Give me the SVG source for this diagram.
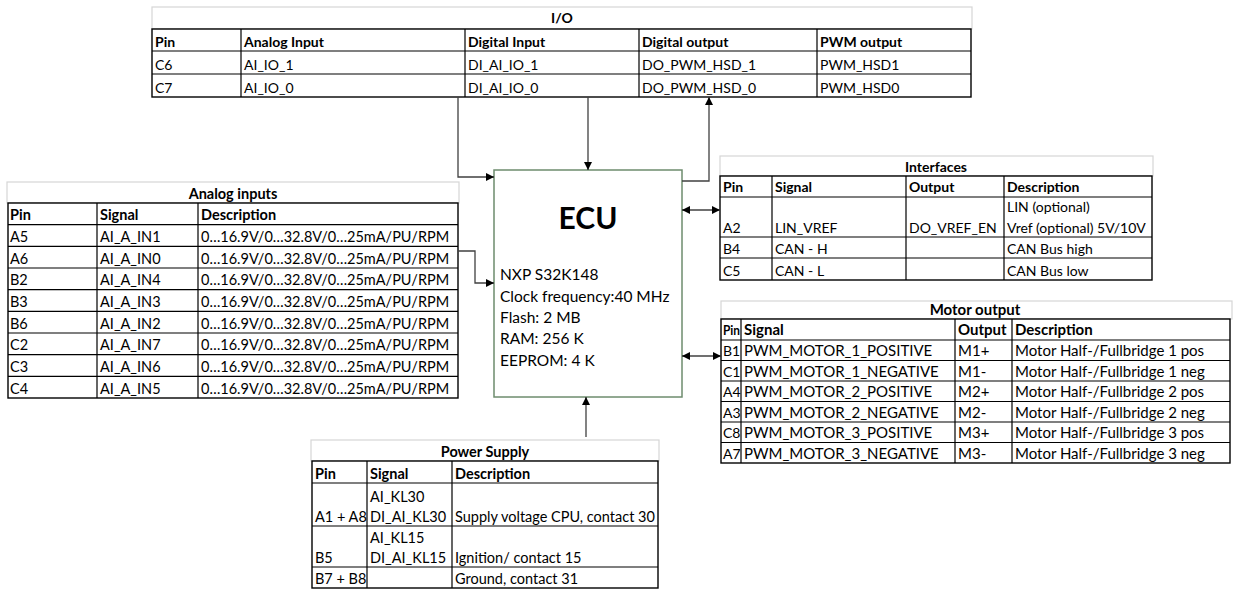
<svg xmlns="http://www.w3.org/2000/svg" width="1235" height="592" viewBox="0 0 1235 592">
<style>
.t{font-family:Lato,"Liberation Sans",sans-serif;font-size:14px;fill:#000}
.m{font-size:14.5px}
.mo{font-size:15px}
.e{font-size:15.5px}
.b{font-weight:bold}
.c{text-anchor:middle}
.ttl{fill:#fff;stroke:#d6d6d6;stroke-width:1.2}
.tb{fill:#fff;stroke:#000;stroke-width:1.4}
.g{stroke:#000;stroke-width:1.2;fill:none}
.con{stroke:#404040;stroke-width:1.3;fill:none}
</style>
<defs>
<marker id="ah" viewBox="0 0 10 10" refX="10" refY="5" markerWidth="8" markerHeight="8" markerUnits="userSpaceOnUse" orient="auto-start-reverse"><path d="M0,0 L10,5 L0,10 z" fill="#000"/></marker>
</defs>
<rect width="1235" height="592" fill="#fff"/>

<g id="io">
<rect class="ttl" x="152" y="7" width="820" height="22"/>
<rect class="tb" x="152" y="29" width="819" height="68"/>
<path class="g" d="M152,51H971M152,74H971M241,29V97M465,29V97M639,29V97M817,29V97"/>
<text class="t b c" x="562" y="23">I/O</text>
<text class="t b" x="155" y="47">Pin</text>
<text class="t b" x="244" y="47">Analog Input</text>
<text class="t b" x="468" y="47">Digital Input</text>
<text class="t b" x="642" y="47">Digital output</text>
<text class="t b" x="820" y="47">PWM output</text>
<text class="t" x="155" y="70">C6</text>
<text class="t" x="244" y="70">AI_IO_1</text>
<text class="t" x="468" y="70">DI_AI_IO_1</text>
<text class="t" x="642" y="70">DO_PWM_HSD_1</text>
<text class="t" x="820" y="70">PWM_HSD1</text>
<text class="t" x="155" y="93">C7</text>
<text class="t" x="244" y="93">AI_IO_0</text>
<text class="t" x="468" y="93">DI_AI_IO_0</text>
<text class="t" x="642" y="93">DO_PWM_HSD_0</text>
<text class="t" x="820" y="93">PWM_HSD0</text>
</g>

<g id="analog">
<rect class="ttl" x="7" y="182" width="452" height="21"/>
<rect class="tb" x="8" y="203" width="450" height="195"/>
<path class="g" d="M8,224.7H458M8,246.3H458M8,268H458M8,289.7H458M8,311.3H458M8,333H458M8,354.7H458M8,376.3H458M97,203V398M198,203V398"/>
<text class="t m b c" x="233" y="199">Analog inputs</text>
<text class="t m b" x="10" y="220">Pin</text>
<text class="t m b" x="100" y="220">Signal</text>
<text class="t m b" x="201" y="220">Description</text>
<text class="t m" x="10" y="242">A5</text><text class="t m" x="100" y="242">AI_A_IN1</text><text class="t m" x="201" y="242">0…16.9V/0…32.8V/0…25mA/PU/RPM</text>
<text class="t m" x="10" y="263.5">A6</text><text class="t m" x="100" y="263.5">AI_A_IN0</text><text class="t m" x="201" y="263.5">0…16.9V/0…32.8V/0…25mA/PU/RPM</text>
<text class="t m" x="10" y="285">B2</text><text class="t m" x="100" y="285">AI_A_IN4</text><text class="t m" x="201" y="285">0…16.9V/0…32.8V/0…25mA/PU/RPM</text>
<text class="t m" x="10" y="307">B3</text><text class="t m" x="100" y="307">AI_A_IN3</text><text class="t m" x="201" y="307">0…16.9V/0…32.8V/0…25mA/PU/RPM</text>
<text class="t m" x="10" y="328.5">B6</text><text class="t m" x="100" y="328.5">AI_A_IN2</text><text class="t m" x="201" y="328.5">0…16.9V/0…32.8V/0…25mA/PU/RPM</text>
<text class="t m" x="10" y="350">C2</text><text class="t m" x="100" y="350">AI_A_IN7</text><text class="t m" x="201" y="350">0…16.9V/0…32.8V/0…25mA/PU/RPM</text>
<text class="t m" x="10" y="372">C3</text><text class="t m" x="100" y="372">AI_A_IN6</text><text class="t m" x="201" y="372">0…16.9V/0…32.8V/0…25mA/PU/RPM</text>
<text class="t m" x="10" y="393.5">C4</text><text class="t m" x="100" y="393.5">AI_A_IN5</text><text class="t m" x="201" y="393.5">0…16.9V/0…32.8V/0…25mA/PU/RPM</text>
</g>

<g id="ecu">
<rect x="494" y="170" width="188" height="227" fill="#fff" stroke="#6e8c6e" stroke-width="1.5"/>
<text class="t b c" x="588" y="229" style="font-size:30px">ECU</text>
<text class="t e" x="500" y="280">NXP S32K148</text>
<text class="t e" x="500" y="301.5">Clock frequency:40 MHz</text>
<text class="t e" x="500" y="323">Flash: 2 MB</text>
<text class="t e" x="500" y="344">RAM: 256 K</text>
<text class="t e" x="500" y="365.5">EEPROM: 4 K</text>
</g>

<g id="interfaces">
<rect class="ttl" x="720" y="156" width="433" height="20"/>
<rect class="tb" x="720" y="176" width="432" height="104"/>
<path class="g" d="M720,197H1152M720,237H1152M720,258H1152M772,176V280M906,176V280M1004,176V280"/>
<text class="t b c" x="936" y="172">Interfaces</text>
<text class="t b" x="723" y="192">Pin</text>
<text class="t b" x="775" y="192">Signal</text>
<text class="t b" x="909" y="192">Output</text>
<text class="t b" x="1007" y="192">Description</text>
<text class="t" x="1007" y="212">LIN (optional)</text>
<text class="t" x="723" y="233">A2</text>
<text class="t" x="775" y="233">LIN_VREF</text>
<text class="t" x="909" y="233">DO_VREF_EN</text>
<text class="t" x="1007" y="233">Vref (optional) 5V/10V</text>
<text class="t" x="723" y="254">B4</text><text class="t" x="775" y="254">CAN - H</text><text class="t" x="1007" y="254">CAN Bus high</text>
<text class="t" x="723" y="275.5">C5</text><text class="t" x="775" y="275.5">CAN - L</text><text class="t" x="1007" y="275.5">CAN Bus low</text>
</g>

<g id="motor">
<rect class="ttl" x="721" y="301" width="511" height="18"/>
<rect class="tb" x="721" y="319" width="509" height="144"/>
<path class="g" d="M721,340H1230M721,360.5H1230M721,381H1230M721,401.5H1230M721,422H1230M721,442.5H1230M741,319V463M955,319V463M1012,319V463"/>
<text class="t mo b c" x="975" y="315">Motor output</text>
<text class="t b" x="723" y="335" textLength="17" lengthAdjust="spacingAndGlyphs">Pin</text>
<text class="t mo b" x="744" y="335">Signal</text>
<text class="t mo b" x="958" y="335">Output</text>
<text class="t mo b" x="1015" y="335">Description</text>
<text class="t" x="723" y="356">B1</text><text class="t mo" x="744" y="356">PWM_MOTOR_1_POSITIVE</text><text class="t mo" x="958" y="356">M1+</text><text class="t mo" x="1015" y="356">Motor Half-/Fullbridge 1 pos</text>
<text class="t" x="723" y="376.5">C1</text><text class="t mo" x="744" y="376.5">PWM_MOTOR_1_NEGATIVE</text><text class="t mo" x="958" y="376.5">M1-</text><text class="t mo" x="1015" y="376.5">Motor Half-/Fullbridge 1 neg</text>
<text class="t" x="723" y="397">A4</text><text class="t mo" x="744" y="397">PWM_MOTOR_2_POSITIVE</text><text class="t mo" x="958" y="397">M2+</text><text class="t mo" x="1015" y="397">Motor Half-/Fullbridge 2 pos</text>
<text class="t" x="723" y="417.5">A3</text><text class="t mo" x="744" y="417.5">PWM_MOTOR_2_NEGATIVE</text><text class="t mo" x="958" y="417.5">M2-</text><text class="t mo" x="1015" y="417.5">Motor Half-/Fullbridge 2 neg</text>
<text class="t" x="723" y="438">C8</text><text class="t mo" x="744" y="438">PWM_MOTOR_3_POSITIVE</text><text class="t mo" x="958" y="438">M3+</text><text class="t mo" x="1015" y="438">Motor Half-/Fullbridge 3 pos</text>
<text class="t" x="723" y="458.5">A7</text><text class="t mo" x="744" y="458.5">PWM_MOTOR_3_NEGATIVE</text><text class="t mo" x="958" y="458.5">M3-</text><text class="t mo" x="1015" y="458.5">Motor Half-/Fullbridge 3 neg</text>
</g>

<g id="power">
<rect class="ttl" x="311" y="440" width="348" height="21"/>
<rect class="tb" x="312" y="461" width="346" height="127"/>
<path class="g" d="M312,483H658M312,526H658M312,567H658M367,461V588M452,461V588"/>
<text class="t m b c" x="485" y="457">Power Supply</text>
<text class="t m b" x="315" y="479">Pin</text>
<text class="t m b" x="370" y="479">Signal</text>
<text class="t m b" x="455" y="479">Description</text>
<text class="t m" x="370" y="502">AI_KL30</text>
<text class="t m" x="315" y="522">A1 + A8</text><text class="t m" x="370" y="522">DI_AI_KL30</text><text class="t m" x="455" y="522">Supply voltage CPU, contact 30</text>
<text class="t m" x="370" y="543">AI_KL15</text>
<text class="t m" x="315" y="563">B5</text><text class="t m" x="370" y="563">DI_AI_KL15</text><text class="t m" x="455" y="563">Ignition/ contact 15</text>
<text class="t m" x="315" y="583.5">B7 + B8</text><text class="t m" x="455" y="583.5">Ground, contact 31</text>
</g>

<g id="connectors">
<path class="con" d="M458,97V177H494" marker-end="url(#ah)"/>
<path class="con" d="M588,97V170" marker-end="url(#ah)"/>
<path class="con" d="M682,181H709V97" marker-end="url(#ah)"/>
<path class="con" d="M458,251H475V283H494" marker-end="url(#ah)"/>
<path class="con" d="M682,210H720" marker-start="url(#ah)" marker-end="url(#ah)"/>
<path class="con" d="M682,356H721" marker-start="url(#ah)" marker-end="url(#ah)"/>
<path class="con" d="M586,437V397" marker-end="url(#ah)"/>
</g>
</svg>
